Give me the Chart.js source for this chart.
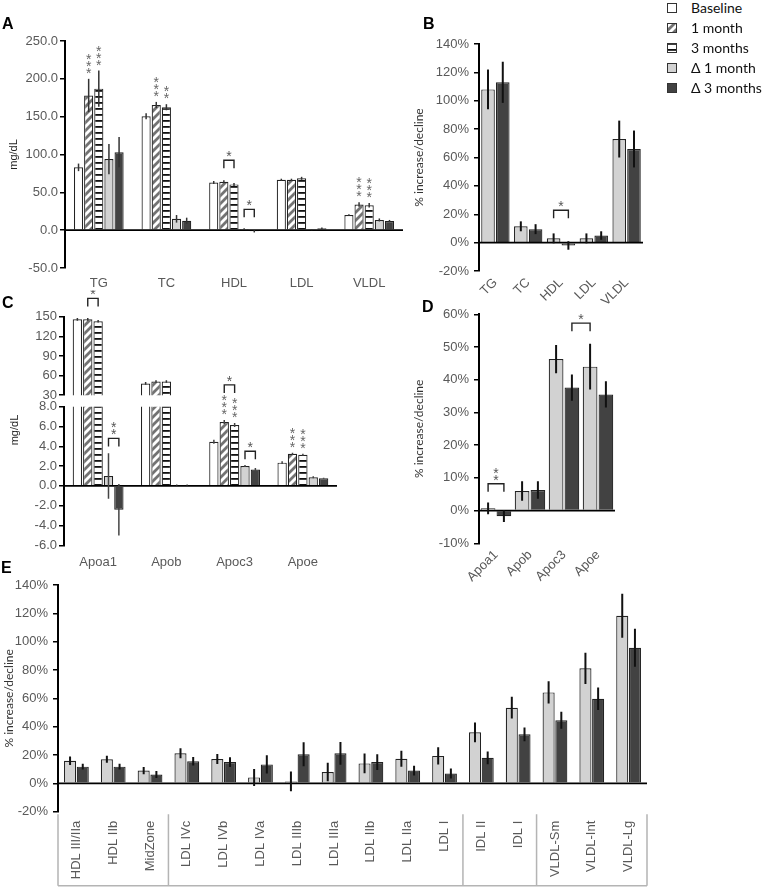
<!DOCTYPE html>
<html>
<head>
<meta charset="utf-8">
<script src="https://cdn.jsdelivr.net/npm/chart.js@4.4.1/dist/chart.umd.min.js"></script>
<style>
  body { margin: 0; background: #fff; }
  #wrap { position: relative; width: 766px; height: 889px; overflow: hidden; font-family: "Liberation Sans", Arial, sans-serif; }
  .cv { position: absolute; }
  .tag { position: absolute; font-weight: bold; font-size: 16px; color: #000; line-height: 16px; }
  .legrow { position: absolute; left: 667px; height: 15px; display: flex; align-items: center; font-family: Lato, sans-serif; font-size: 14px; color: #111; white-space: nowrap; }
  .legrow canvas { margin-right: 14px; }
  .vtitle { position: absolute; width: 60px; text-align: center; font-size: 11px; color: #222; transform: rotate(-90deg); }
</style>
</head>
<body>
<div id="wrap">
  <canvas id="cA" class="cv" style="left:0;top:0" width="410" height="300"></canvas>
  <canvas id="cB" class="cv" style="left:408px;top:0" width="250" height="312"></canvas>
  <canvas id="cC1" class="cv" style="left:0;top:290px" width="345" height="115"></canvas>
  <canvas id="cC2" class="cv" style="left:0;top:370px" width="345" height="205"></canvas>
  <canvas id="cD" class="cv" style="left:408px;top:290px" width="222" height="300"></canvas>
  <canvas id="cE" class="cv" style="left:0;top:560px" width="660" height="329"></canvas>
  <div class="tag" style="left:2px;top:16px">A</div>
  <div class="tag" style="left:423px;top:16px">B</div>
  <div class="tag" style="left:2px;top:295px">C</div>
  <div class="tag" style="left:422px;top:299px">D</div>
  <div class="tag" style="left:1px;top:560px">E</div>
  <div class="vtitle" style="left:-16px;top:424px">mg/dL</div>
  <div id="legend"></div>
</div>
<script>
// --- data ---
const seriesNames = ['Baseline', '1 month', '3 months', '\u0394 1 month', '\u0394 3 months'];

// A: lipids, mg/dL
const lipidCats = ['TG', 'TC', 'HDL', 'LDL', 'VLDL'];
const lipidBase = [83, 150.5, 63, 66.5, 20];
const lipid1m = [178, 165.5, 64, 66.5, 34];
const lipid3m = [187, 162.5, 60.5, 68.5, 33];
const lipidD1 = [94, 15, 1.5, 0.5, 13.5];
const lipidD3 = [103, 12.5, -1.5, 2.5, 12];
const lipidBaseErr = [5, 4, 2, 1.5, 1];
const lipid1mErr = [22, 4, 2, 1.5, 3];
const lipid3mErr = [24, 4, 2, 2, 3];
const lipidD1Err = [20, 5, 1, 0.5, 2];
const lipidD3Err = [20, 4, 1.5, 1, 1.5];
const mgTicks = [-50, 0, 50, 100, 150, 200, 250];

// B: lipids, % change
const lipidPctD1 = [108, 11.5, 3, 3, 73];
const lipidPctD3 = [113, 9.5, -2, 5, 66];
const lipidPctD1Err = [14, 3.5, 3.5, 3.5, 13];
const lipidPctD3Err = [14.5, 3.5, 3, 3, 13];
const pctTicks = [-20, 0, 20, 40, 60, 80, 100, 120, 140];

// C: apolipoproteins, mg/dL (split axis)
const apoCats = ['Apoa1', 'Apob', 'Apoc3', 'Apoe'];
const apoBase = [146, 48, 4.45, 2.35];
const apo1m = [146, 51, 6.45, 3.25];
const apo3m = [143, 51, 6.15, 3.15];
const apoD1 = [1.0, 0.1, 2.0, 0.87];
const apoD3 = [-2.4, 0.1, 1.65, 0.77];
const apoBaseErr = [2, 2, 0.2, 0.15];
const apo1mErr = [2, 2, 0.2, 0.1];
const apo3mErr = [2, 2, 0.2, 0.1];
const apoD1Err = [2.3, 0.05, 0.1, 0.1];
const apoD3Err = [2.6, 0.05, 0.15, 0.06];
const apoTicksHigh = [30, 60, 90, 120, 150];
const apoTicksLow = [-6, -4, -2, 0, 2, 4, 6, 8];

// D: apolipoproteins, % change
const apoPctD1 = [0.7, 6, 46.3, 44];
const apoPctD3 = [-1.7, 6.3, 37.6, 35.5];
const apoPctD1Err = [1.8, 3, 4.3, 7];
const apoPctD3Err = [1.8, 2.7, 4, 4];
const pctTicksD = [-10, 0, 10, 20, 30, 40, 50, 60];

// E: subfractions, % change
const subCats = ['HDL III/IIa', 'HDL IIb', 'MidZone', 'LDL IVc', 'LDL IVb', 'LDL IVa', 'LDL IIIb', 'LDL IIIa',
  'LDL IIb', 'LDL IIa', 'LDL I', 'IDL II', 'IDL I', 'VLDL-Sm', 'VLDL-Int', 'VLDL-Lg'];
const subPctD1 = [16, 17, 9, 21.2, 17.2, 4.2, 1.4, 8, 14.1, 17.4, 19.4, 36, 53.4, 64.2, 81.2, 118.3];
const subPctD3 = [11.8, 11.8, 6.3, 15.6, 15, 13.4, 20.5, 21.2, 15, 9, 7, 18, 34.6, 44.5, 59.7, 95.7];
const subPctD1Err = [3, 2.5, 2.5, 3.5, 3.5, 6, 7, 6.5, 7, 5.7, 6, 7, 7.7, 7.8, 11, 15.6];
const subPctD3Err = [2, 2, 2.5, 3, 3.5, 6.5, 8.5, 8, 5.5, 3.5, 3.5, 4.5, 4.8, 6, 8, 13.4];
const subGroupBreaks = [0, 3, 11, 13, 16];

// --- fills ---
function hatch(kind) {
  const c = document.createElement('canvas');
  const g = c.getContext('2d');
  if (kind === 'diag') {
    c.width = 8; c.height = 8;
    g.fillStyle = '#fff'; g.fillRect(0, 0, 8, 8);
    g.strokeStyle = '#737373'; g.lineWidth = 2.8;
    g.beginPath();
    g.moveTo(-2, 10); g.lineTo(10, -2);
    g.moveTo(-2, 2); g.lineTo(2, -2);
    g.moveTo(6, 10); g.lineTo(10, 6);
    g.stroke();
  } else {
    c.width = 6; c.height = 6;
    g.fillStyle = '#fff'; g.fillRect(0, 0, 6, 6);
    g.fillStyle = '#111'; g.fillRect(0, 0, 6, 1.8);
  }
  return g.createPattern(c, 'repeat');
}
const fillBase = '#ffffff';
const fill1m = hatch('diag');
const fill3m = hatch('horiz');
const fillD1 = '#d2d2d2';
const fillD3 = '#424242';
const FONT = '"Liberation Sans", Arial, sans-serif';

// --- error bars, zero line, stars, brackets, group boxes ---
const extras = {
  id: 'extras',
  afterDatasetsDraw(chart, args, o) {
    const { ctx, chartArea: a, scales: { x, y } } = chart;
    const barAt = (c, d) => chart.getDatasetMeta(d).data[c];
    const val = (c, d) => chart.data.datasets[d].data[c];
    ctx.save();
    if (o.zero) {
      const y0 = y.getPixelForValue(0);
      ctx.strokeStyle = '#000'; ctx.lineWidth = 1.6;
      ctx.beginPath(); ctx.moveTo(a.left, y0); ctx.lineTo(a.right, y0); ctx.stroke();
    }
    ctx.save();
    ctx.beginPath(); ctx.rect(a.left, a.top, a.right - a.left, a.bottom - a.top); ctx.clip();
    ctx.strokeStyle = o.errColor || '#111'; ctx.lineWidth = o.errWidth || 2;
    (o.errors || []).forEach((errs, d) => errs.forEach((e, c) => {
      const bx = barAt(c, d).x, v = val(c, d);
      ctx.beginPath();
      ctx.moveTo(bx, y.getPixelForValue(v + e));
      ctx.lineTo(bx, y.getPixelForValue(v - e));
      ctx.stroke();
    }));
    ctx.restore();

    ctx.font = '14px ' + FONT;
    ctx.textAlign = 'center'; ctx.textBaseline = 'alphabetic';
    const star = (sx, cy) => ctx.fillText('*', sx, cy + 8);
    ctx.fillStyle = '#666';
    (o.stars || []).forEach(([c, d, n]) => {
      const b = barAt(c, d);
      const top = y.getPixelForValue(val(c, d) + o.errors[d][c]);
      for (let k = 0; k < n; k++) star(b.x, top - 9 - k * 7);
    });
    (o.brackets || []).forEach(([c1, d1, c2, d2, v, n, vert]) => {
      const x1 = barAt(c1, d1).x, x2 = barAt(c2, d2).x, py = y.getPixelForValue(v);
      ctx.strokeStyle = '#222'; ctx.lineWidth = 1.4;
      ctx.beginPath();
      ctx.moveTo(x1, py + 8); ctx.lineTo(x1, py); ctx.lineTo(x2, py); ctx.lineTo(x2, py + 8);
      ctx.stroke();
      ctx.fillStyle = '#555';
      const mx = (x1 + x2) / 2;
      if (vert) { for (let k = 0; k < n; k++) star(mx, py - 7 - k * 7); }
      else star(mx, py - 7);
    });
    if (o.groups) {
      const g = o.groups;
      ctx.strokeStyle = '#b4b4b4'; ctx.lineWidth = 1.5;
      const yt = a.bottom + g.top, yb = a.bottom + g.bottom;
      const xs = g.breaks.map(i => x.getPixelForValue(i - 0.5));
      ctx.beginPath();
      xs.forEach(px => { ctx.moveTo(px, yt); ctx.lineTo(px, yb); });
      ctx.moveTo(xs[0], yb); ctx.lineTo(xs[xs.length - 1], yb);
      ctx.stroke();
    }
    ctx.restore();
  }
};

function makeChart(id, cats, sets, o) {
  return new Chart(document.getElementById(id), {
    type: 'bar',
    data: {
      labels: cats,
      datasets: sets.map(s => ({
        data: s[0], backgroundColor: s[1], borderColor: '#222', borderWidth: 1.2,
        categoryPercentage: o.cat, barPercentage: o.bar
      }))
    },
    plugins: [extras],
    options: {
      responsive: false, animation: false, devicePixelRatio: 1,
      layout: { padding: { left: 0, top: o.padTop, right: o.padRight, bottom: o.padBottom || 0 } },
      plugins: { legend: { display: false }, tooltip: { enabled: false }, extras: o.extras },
      scales: {
        x: {
          display: o.showX !== false,
          grid: { display: false, drawTicks: false },
          border: { display: false },
          ticks: {
            color: '#595959', font: { family: FONT, size: 13 }, padding: o.xPad,
            minRotation: o.rot, maxRotation: o.rot, autoSkip: false
          },
          afterFit: s => { s.height = o.xH; }
        },
        y: {
          min: o.ticks[0], max: o.ticks[o.ticks.length - 1],
          afterBuildTicks: s => { s.ticks = o.ticks.map(v => ({ value: v })); },
          grid: { drawOnChartArea: false, drawTicks: true, tickLength: 5, color: '#000', lineWidth: 1.5 },
          border: { display: true, color: '#000', width: 2 },
          ticks: { color: '#595959', font: { family: FONT, size: 13 }, padding: o.yPad, callback: v => o.fmt(v) },
          title: {
            display: !!o.title, text: o.title, color: o.titleColor || '#222',
            font: o.titleFont || { family: FONT, size: 11 }, padding: { top: o.titlePad || 4, bottom: 0 }
          },
          afterFit: s => { s.width = o.yW; }
        }
      }
    }
  });
}

const pct = v => v + '%';
const pctTitleFont = { family: 'Lato, sans-serif', size: 12 };

// A
makeChart('cA', lipidCats,
  [[lipidBase, fillBase], [lipid1m, fill1m], [lipid3m, fill3m], [lipidD1, fillD1], [lipidD3, fillD3]],
  { cat: 0.75, bar: 0.9, padTop: 41, padRight: 7, xH: 32, yW: 65, xPad: 8, yPad: 2, rot: 0,
    ticks: mgTicks, fmt: v => v.toFixed(1), title: 'mg/dL', titlePad: 7,
    extras: {
      zero: true, errColor: '#333', errWidth: 1.5,
      errors: [lipidBaseErr, lipid1mErr, lipid3mErr, lipidD1Err, lipidD3Err],
      stars: [[0, 1, 3], [0, 2, 3], [1, 1, 3], [1, 2, 2], [4, 1, 3], [4, 2, 3]],
      brackets: [[2, 1, 2, 2, 92.5, 1, false], [2, 3, 2, 4, 27.5, 1, false]]
    } });

// B
makeChart('cB', lipidCats, [[lipidPctD1, fillD1], [lipidPctD3, fillD3]],
  { cat: 0.9, bar: 0.92, padTop: 44, padRight: 15, xH: 41, yW: 71, xPad: 4, yPad: 5, rot: 45,
    ticks: pctTicks, fmt: pct, title: '% increase/decline', titleFont: pctTitleFont, titleColor: '#333',
    extras: {
      zero: true, errors: [lipidPctD1Err, lipidPctD3Err],
      brackets: [[2, 0, 2, 1, 22.8, 1, false]]
    } });

// C upper segment
makeChart('cC1', apoCats,
  [[apoBase, fillBase], [apo1m, fill1m], [apo3m, fill3m], [apoD1, fillD1], [apoD3, fillD3]],
  { cat: 0.76, bar: 0.9, padTop: 26.7, padRight: 8, padBottom: 9, showX: false, xH: 0, yW: 64, yPad: 2, rot: 0,
    ticks: apoTicksHigh, fmt: v => String(v),
    extras: {
      errColor: '#333', errWidth: 1.5,
      errors: [apoBaseErr, apo1mErr, apo3mErr, apoD1Err, apoD3Err],
      brackets: [[0, 1, 0, 2, 178, 1, false]]
    } });

// C lower segment
makeChart('cC2', apoCats,
  [[apoBase, fillBase], [apo1m, fill1m], [apo3m, fill3m], [apoD1, fillD1], [apoD3, fillD3]],
  { cat: 0.76, bar: 0.9, padTop: 36.7, padRight: 8, xH: 29.7, yW: 64, xPad: 9, yPad: 2, rot: 0,
    ticks: apoTicksLow, fmt: v => v.toFixed(1),
    extras: {
      zero: true, errColor: '#444', errWidth: 1.5,
      errors: [apoBaseErr, apo1mErr, apo3mErr, apoD1Err, apoD3Err],
      stars: [[2, 1, 3], [2, 2, 3], [3, 1, 3], [3, 2, 3]],
      brackets: [[0, 3, 0, 4, 4.8, 2, true], [2, 1, 2, 2, 10.2, 1, false], [2, 3, 2, 4, 3.5, 1, false]]
    } });

// D
makeChart('cD', apoCats, [[apoPctD1, fillD1], [apoPctD3, fillD3]],
  { cat: 0.93, bar: 0.93, padTop: 24.3, padRight: 15, xH: 46.7, yW: 71, xPad: 4, yPad: 5, rot: 45,
    ticks: pctTicksD, fmt: pct, title: '% increase/decline', titleFont: pctTitleFont, titleColor: '#333',
    extras: {
      zero: true, errors: [apoPctD1Err, apoPctD3Err],
      brackets: [[0, 0, 0, 1, 8.2, 2, true], [2, 1, 3, 0, 57.3, 1, false]]
    } });

// E
makeChart('cE', subCats, [[subPctD1, fillD1], [subPctD3, fillD3]],
  { cat: 0.69, bar: 0.95, padTop: 25, padRight: 13, xH: 77.3, yW: 58, xPad: 9, yPad: 5, rot: 90,
    ticks: pctTicks, fmt: pct, title: '% increase/decline', titleFont: pctTitleFont, titleColor: '#333', titlePad: 2,
    extras: {
      zero: true, errors: [subPctD1Err, subPctD3Err],
      groups: { breaks: subGroupBreaks, top: 2.5, bottom: 74 }
    } });

// legend
const legendFills = [fillBase, fill1m, fill3m, fillD1, fillD3];
const legend = document.getElementById('legend');
seriesNames.forEach((name, i) => {
  const row = document.createElement('div');
  row.className = 'legrow';
  row.style.top = (i * 20) + 'px';
  const sw = document.createElement('canvas');
  sw.width = 10; sw.height = 10;
  const g = sw.getContext('2d');
  g.fillStyle = legendFills[i]; g.fillRect(0, 0, 10, 10);
  g.strokeStyle = '#333'; g.lineWidth = 1; g.strokeRect(0.5, 0.5, 9, 9);
  const t = document.createElement('span');
  t.textContent = name;
  row.appendChild(sw); row.appendChild(t);
  legend.appendChild(row);
});
</script>
</body>
</html>
